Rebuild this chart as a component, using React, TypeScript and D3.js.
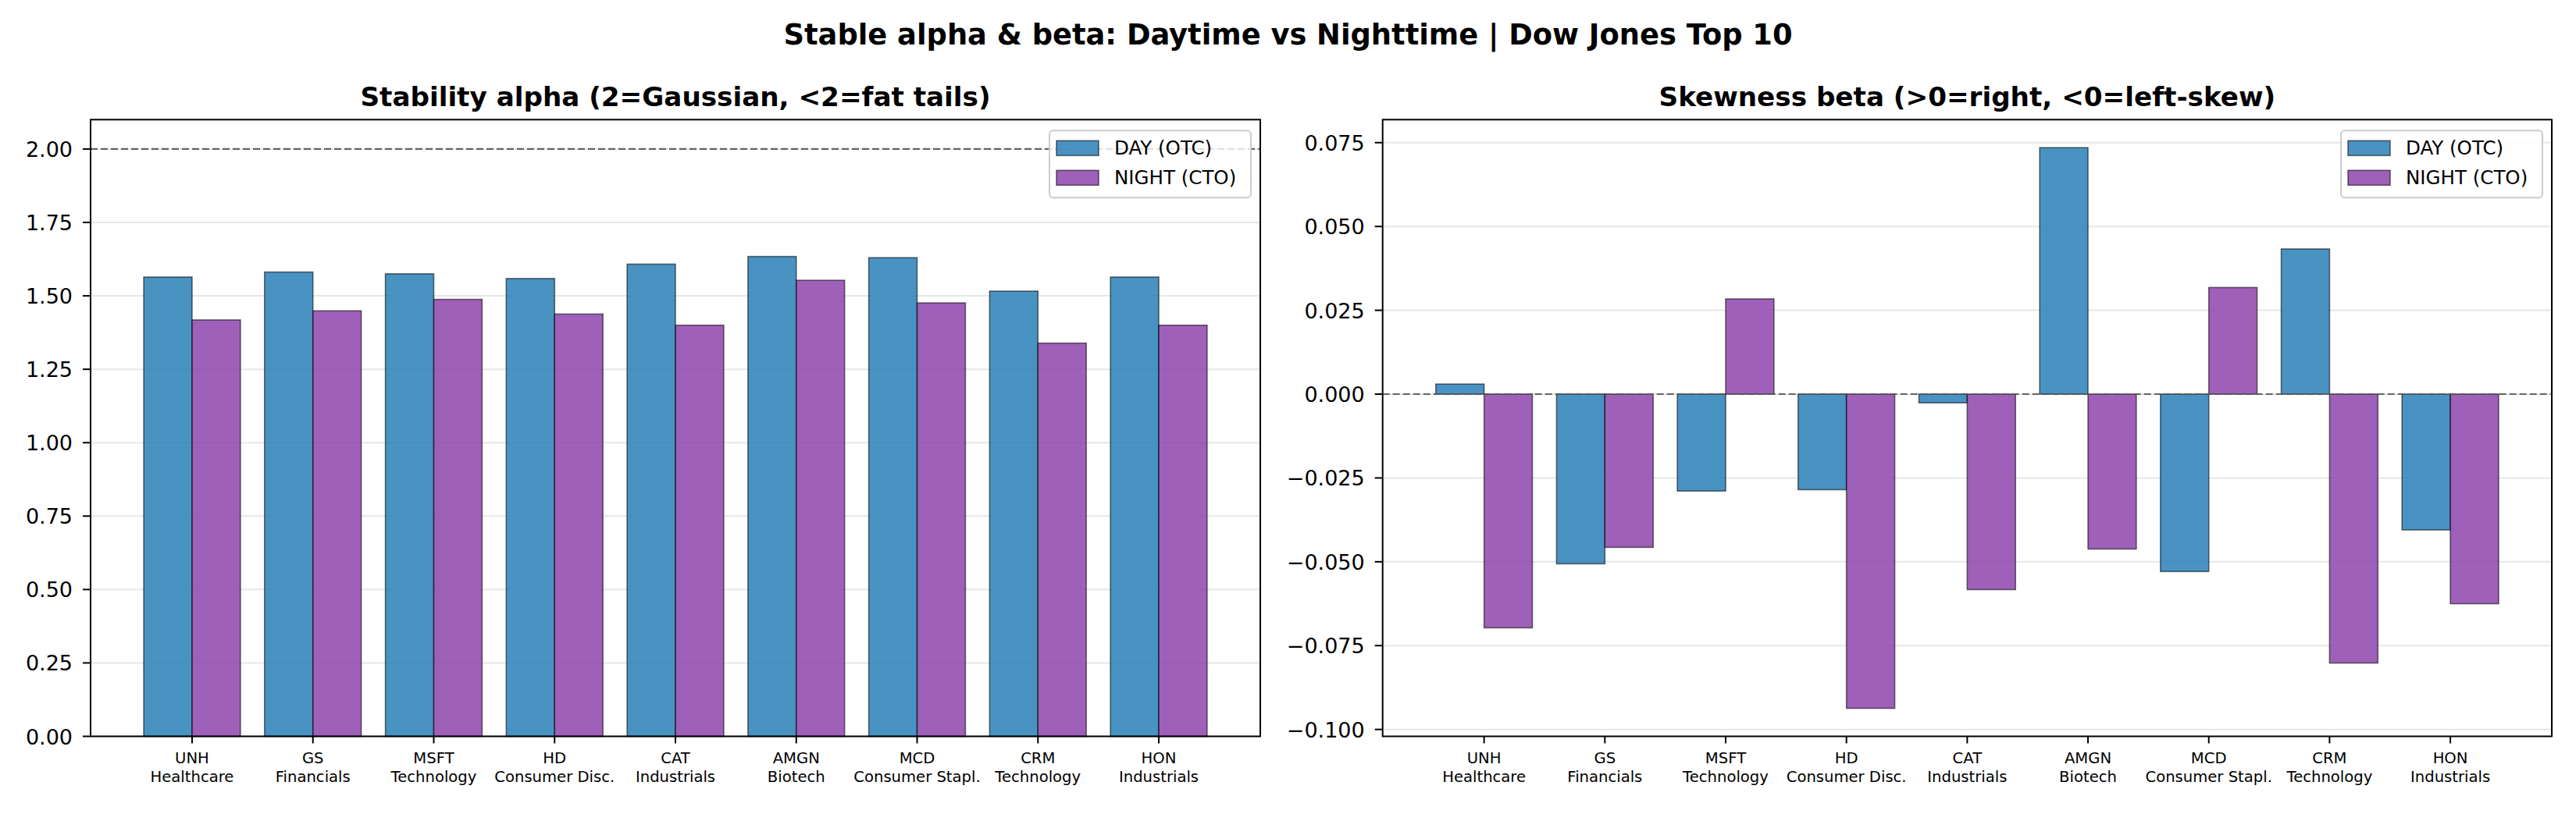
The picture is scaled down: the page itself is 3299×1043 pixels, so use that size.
import React from "react";
import * as d3 from "d3";

const tickers = ["UNH", "GS", "MSFT", "HD", "CAT", "AMGN", "MCD", "CRM", "HON"];
const sectors = ["Healthcare", "Financials", "Technology", "Consumer Disc.", "Industrials", "Biotech", "Consumer Stapl.", "Technology", "Industrials"];
const alphaDay = [1.564, 1.581, 1.575, 1.559, 1.608, 1.634, 1.630, 1.516, 1.564];
const alphaNight = [1.418, 1.449, 1.488, 1.438, 1.400, 1.553, 1.476, 1.339, 1.400];
const betaDay = [0.0030, -0.0506, -0.0289, -0.0285, -0.0026, 0.0735, -0.0529, 0.0433, -0.0405];
const betaNight = [-0.0697, -0.0457, 0.0284, -0.0937, -0.0583, -0.0462, 0.0318, -0.0802, -0.0625];
const alphaTicks = [0, 0.25, 0.5, 0.75, 1.0, 1.25, 1.5, 1.75, 2.0];
const betaTicks = [-0.1, -0.075, -0.05, -0.025, 0, 0.025, 0.05, 0.075];
const seriesNames = ["DAY (OTC)", "NIGHT (CTO)"];
const seriesColors = ["#2980b9", "#8e44ad"];

const W = 3299;
const H = 1043;
const TOP = 153.3;
const BOTTOM = 943.5;
const FONT = "DejaVu Sans, sans-serif";

type PanelProps = {
  left: number;
  right: number;
  title: string;
  day: number[];
  night: number[];
  yDomain: [number, number];
  ticks: number[];
  fmt: (v: number) => string;
  refValue: number;
};

function Panel({ left, right, title, day, night, yDomain, ticks, fmt, refValue }: PanelProps) {
  const n = tickers.length;
  const x = d3.scaleLinear().domain([-0.84, n - 1 + 0.84]).range([left, right]);
  const y = d3.scaleLinear().domain(yDomain).range([BOTTOM, TOP]);
  const bw = x(0.4) - x(0);
  const base = y(Math.max(yDomain[0], 0));
  const legW = 258;
  const legX = right - 12 - legW;
  const legY = TOP + 14;
  const series = [day, night];
  return (
    <g>
      <text x={(left + right) / 2} y={136} textAnchor="middle" fontFamily={FONT} fontSize={34.2} fontWeight="bold" fill="#000">
        {title}
      </text>
      {/* grid */}
      {ticks.map((t, i) => (
        <line key={"g" + i} x1={left} x2={right} y1={y(t)} y2={y(t)} stroke="#b0b0b0" strokeOpacity={0.3} strokeWidth={2} />
      ))}
      {/* bars */}
      {series.map((vals, s) =>
        vals.map((v, i) => {
          const cx = s === 0 ? i - 0.2 : i + 0.2;
          const x0 = x(cx - 0.2);
          const yv = y(v);
          const y0 = Math.min(yv, base);
          const h = Math.abs(yv - base);
          return (
            <rect
              key={"b" + s + "-" + i}
              x={x0}
              y={y0}
              width={bw}
              height={h}
              fill={seriesColors[s]}
              fillOpacity={0.85}
              stroke="#000"
              strokeOpacity={0.55}
              strokeWidth={1.6}
            />
          );
        })
      )}
      {/* reference line */}
      <line x1={left} x2={right} y1={y(refValue)} y2={y(refValue)} stroke="#555" strokeOpacity={0.9} strokeWidth={2.2} strokeDasharray="9,4" />
      {/* spines */}
      <rect x={left} y={TOP} width={right - left} height={BOTTOM - TOP} fill="none" stroke="#000" strokeWidth={2} />
      {/* y ticks */}
      {ticks.map((t, i) => (
        <g key={"yt" + i}>
          <line x1={left - 10} x2={left} y1={y(t)} y2={y(t)} stroke="#000" strokeWidth={2} />
          <text x={left - 23} y={y(t) + 10} textAnchor="end" fontFamily={FONT} fontSize={27} fill="#000">
            {fmt(t)}
          </text>
        </g>
      ))}
      {/* x ticks */}
      {tickers.map((tk, i) => (
        <g key={"xt" + i}>
          <line x1={x(i)} x2={x(i)} y1={BOTTOM} y2={BOTTOM + 9} stroke="#000" strokeWidth={2} />
          <text x={x(i)} y={978} textAnchor="middle" fontFamily={FONT} fontSize={19.6} fill="#000">
            {tk}
          </text>
          <text x={x(i)} y={1002} textAnchor="middle" fontFamily={FONT} fontSize={19.6} fill="#000">
            {sectors[i]}
          </text>
        </g>
      ))}
      {/* legend */}
      <rect x={legX} y={legY} width={legW} height={86} rx={5} ry={5} fill="#fff" fillOpacity={0.8} stroke="#cccccc" strokeWidth={2} />
      {seriesNames.map((nm, s) => (
        <g key={"lg" + s}>
          <rect
            x={legX + 9}
            y={legY + 13 + s * 38}
            width={54}
            height={19}
            fill={seriesColors[s]}
            fillOpacity={0.85}
            stroke="#000"
            strokeOpacity={0.55}
            strokeWidth={1.6}
          />
          <text x={legX + 83} y={legY + 31 + s * 38} fontFamily={FONT} fontSize={24.5} fill="#000">
            {nm}
          </text>
        </g>
      ))}
    </g>
  );
}

export default function App() {
  const allBeta = [...betaDay, ...betaNight];
  const bMin = d3.min(allBeta) as number;
  const bMax = d3.max(allBeta) as number;
  const pad = (bMax - bMin) * 0.05;
  const minus = (s: string) => s.replace("-", "\u2212");
  return (
    <svg
      width={W}
      height={H}
      viewBox={`0 0 ${W} ${H}`}
      style={{ position: "absolute", left: 0, top: 0, background: "#fff" }}
    >
      <rect x={0} y={0} width={W} height={H} fill="#fff" />
      <text x={W / 2} y={57} textAnchor="middle" fontFamily={FONT} fontSize={36.8} fontWeight="bold" fill="#000">
        Stable alpha &amp; beta: Daytime vs Nighttime | Dow Jones Top 10
      </text>
      <Panel
        left={116}
        right={1614}
        title="Stability alpha (2=Gaussian, <2=fat tails)"
        day={alphaDay}
        night={alphaNight}
        yDomain={[0, 2.1]}
        ticks={alphaTicks}
        fmt={(v) => d3.format(".2f")(v)}
        refValue={2.0}
      />
      <Panel
        left={1770.7}
        right={3268}
        title="Skewness beta (>0=right, <0=left-skew)"
        day={betaDay}
        night={betaNight}
        yDomain={[bMin - pad, bMax + pad]}
        ticks={betaTicks}
        fmt={(v) => minus(d3.format(".3f")(Math.abs(v) < 1e-12 ? 0 : v))}
        refValue={0}
      />
    </svg>
  );
}
